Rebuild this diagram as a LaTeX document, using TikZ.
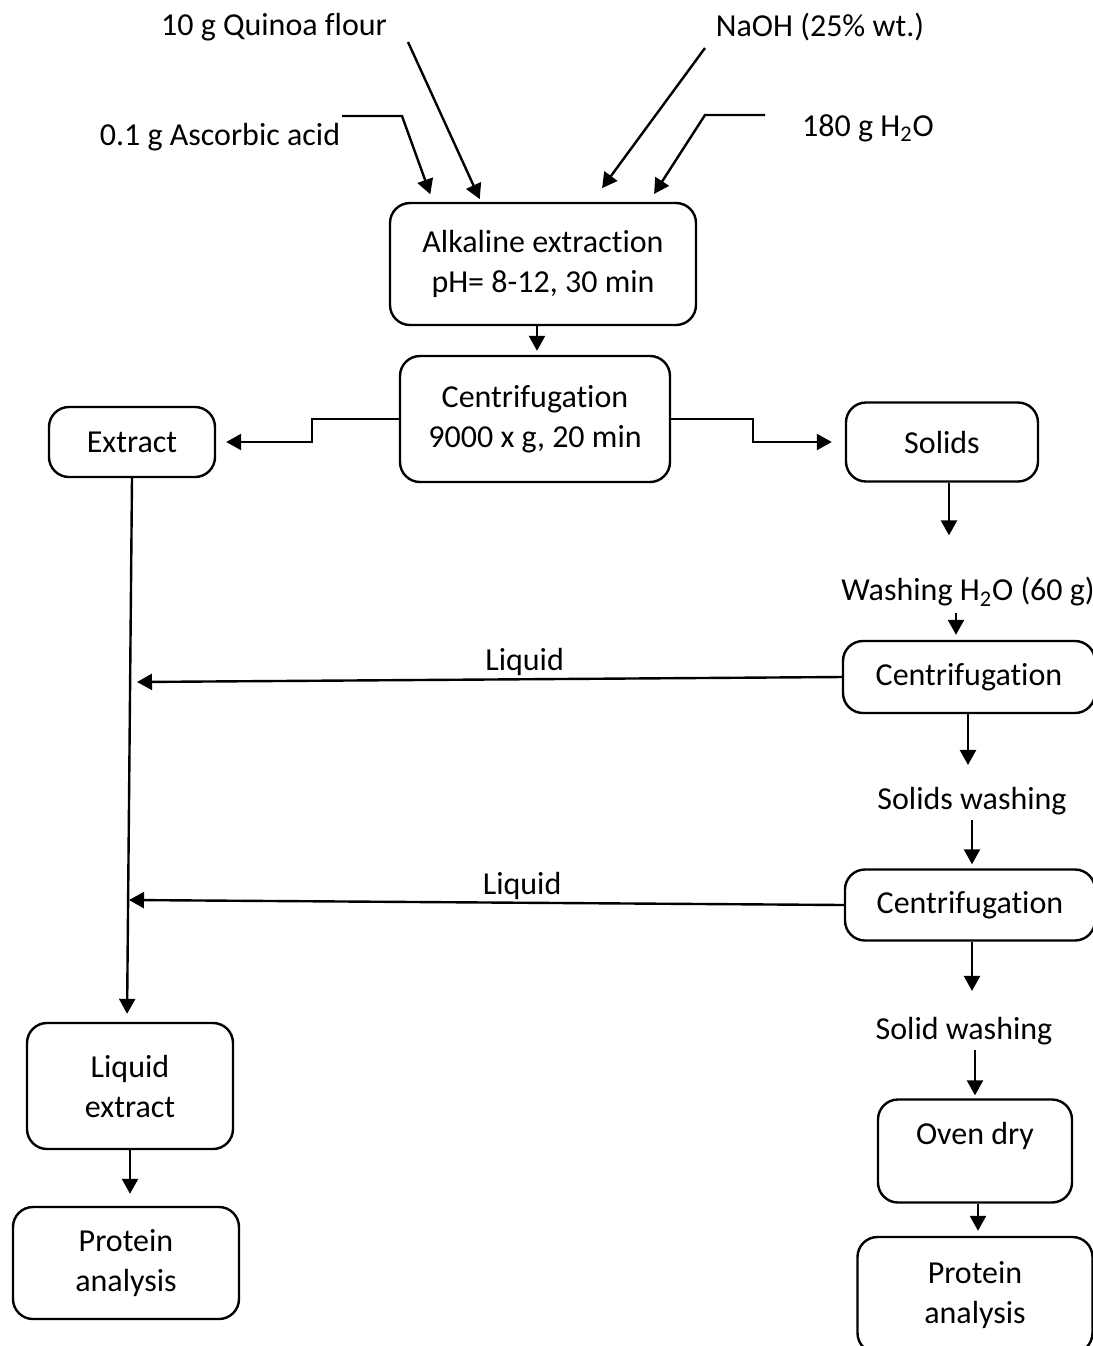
\documentclass[tikz,border=0pt]{standalone}
\usepackage{fontspec}
\setmainfont{Carlito}[Ligatures=NoCommon]
\usetikzlibrary{positioning, arrows.meta, calc}

\begin{document}
\begin{tikzpicture}[
            x=0.5pt, y=-0.5pt,
            >={Triangle[length=7.5pt, width=8pt]},
            line width=1.2pt,
            every node/.style={font=\fontsize{16pt}{20pt}\selectfont},
            process/.style={draw, rounded corners=10pt, align=center, inner sep=0pt, line width=1.2pt},
            note/.style={inner sep=0pt, align=center},
            flow/.style={->, line width=1.2pt},
        ]
            \useasboundingbox (0,0) rectangle (1093,1346);

            % Draw the input texts
            \node[note] (quinoa) at (274,27) {10 g Quinoa flour};
            \node[note] (naoh) at (820,27) {NaOH (25\% wt.)};
            \node[note] (ascorbic) at (220,137) {0.1 g Ascorbic acid};
            \node[note] (water) at (868,128) {180 g H\textsubscript{2}O};

            % Draw the process boxes
            \node[process, minimum width=153pt, minimum height=61pt] (alk) at (543,264) {Alkaline extraction\\pH= 8-12, 30 min};
            \node[process, minimum width=135pt, minimum height=63pt] (cen1) at (535,419) {Centrifugation\\9000 x g, 20 min};
            \node[process, minimum width=83pt, minimum height=35pt] (extract) at (132,442) {Extract};
            \node[process, minimum width=96pt, minimum height=39.5pt] (solids) at (942,442) {Solids};
            \node[process, minimum width=126pt, minimum height=36pt] (cen2) at (969,677) {Centrifugation};
            \node[process, minimum width=125pt, minimum height=35.5pt] (cen3) at (970,905) {Centrifugation};
            \node[process, minimum width=97pt, minimum height=51.5pt, text depth=18pt] (oven) at (975,1151) {Oven dry};
            \node[process, minimum width=117.5pt, minimum height=58pt] (protR) at (975,1295) {Protein\\analysis};
            \node[process, minimum width=103pt, minimum height=63pt] (liqext) at (130,1086) {Liquid\\extract};
            \node[process, minimum width=113pt, minimum height=56pt] (protL) at (126,1263) {Protein\\analysis};

            % Draw the washing steps
            \node[note] (wash1) at (968,592) {Washing H\textsubscript{2}O (60 g)};
            \node[note] (wash2) at (972,801) {Solids washing};
            \node[note] (wash3) at (964,1031) {Solid washing};

            % Connect the inputs to the extraction
            \coordinate (a0) at (342,116);
            \coordinate (q0) at (408,42);
            \coordinate (n0) at (705,48);
            \coordinate (w0) at (765,115);
            \draw[flow, shorten >=4pt] (a0) -- (402,116) -- (alk.north -| 433,0);
            \draw[flow, shorten >=1.5pt] (q0) -- (alk.north -| 481,0);
            \draw[flow, shorten >=8.5pt] (n0) -- (alk.north -| 592,0);
            \draw[flow, shorten >=4.7pt] (w0) -- (705,115) -- (alk.north -| 649,0);

            % Connect the centrifugation to its two outputs
            \draw[flow, shorten >=2pt] (alk.south -| 537,0) -- (cen1.north -| 537,0);
            \draw[flow, shorten >=5pt] (cen1.west) -- ++(-87,0) |- (extract.east);
            \draw[flow, shorten >=6.5pt] (cen1.east) -- ++(82,0) |- (solids.west);

            % Right column, top to bottom
            \draw[flow, shorten >=20.5pt] (solids.south -| 949,0) -- (wash1.north -| 949,0);
            \draw[flow, shorten <=2.75pt, shorten >=2.5pt] (wash1.south -| 956,0) -- (cen2.north -| 956,0);
            \draw[flow, shorten >=10.5pt] (cen2.south -| 968,0) -- (wash2.north -| 968,0);
            \draw[flow, shorten <=2pt, shorten >=2pt] (wash2.south -| 972,0) -- (cen3.north -| 972,0);
            \draw[flow, shorten >=12.5pt] (cen3.south -| 972,0) -- (wash3.north -| 972,0);
            \draw[flow, shorten <=2pt, shorten >=1.5pt] (wash3.south -| 975,0) -- (oven.north -| 975,0);
            \draw[flow, shorten >=2.5pt] (oven.south -| 978,0) -- (protR.north -| 978,0);

            % Liquids back to the extract line
            \coordinate (liq1) at (137,682);
            \coordinate (liq2) at (129,900);
            \draw[flow] (cen2.west) -- (liq1) node[note, pos=0.45, above=1pt] {Liquid};
            \draw[flow] (cen3.west) -- (liq2) node[note, pos=0.45, above=1pt] {Liquid};

            % Left column
            \draw[flow, shorten >=4pt] (extract.south) -- (liqext.north -| 127,0);
            \draw[flow, shorten >=6pt] (liqext.south) -- (protL.north -| 130,0);
        \end{tikzpicture}
\end{document}
